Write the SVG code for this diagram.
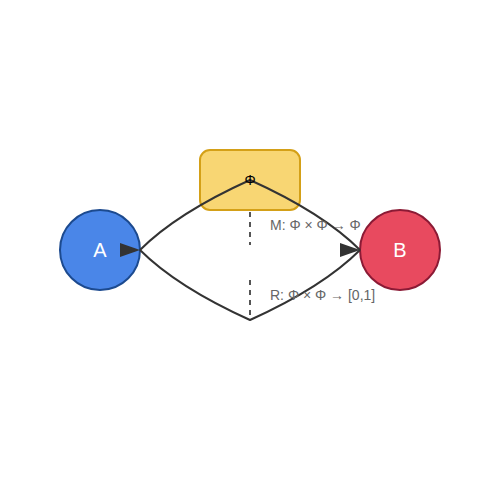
<svg xmlns="http://www.w3.org/2000/svg" width="500" height="500" viewBox="0 0 500 500">
<style>
.edge{fill:none;stroke:#333;stroke-width:2}
.dash{stroke:#555;stroke-width:2;stroke-dasharray:5,5}
.lbl{font-family:"Liberation Sans",Arial,sans-serif;font-size:14px;fill:#666}
.nt{font-family:"Liberation Sans",Arial,sans-serif;font-size:20px;fill:#fff;text-anchor:middle;dominant-baseline:central}
</style>
<defs>
<marker id="arr" markerWidth="20" markerHeight="14" refX="20" refY="7" orient="0" markerUnits="userSpaceOnUse">
<path d="M0,0 L20,7 L0,14 Z" fill="#333"/>
</marker>
</defs>
<rect width="500" height="500" fill="#fff"/>
<g id="node-phi">
<rect x="200" y="150" width="100" height="60" rx="10" fill="#f8d673" stroke="#d4a017" stroke-width="2"/>
</g>
<g id="node-A">
<circle cx="100" cy="250" r="40" fill="#4a86e8" stroke="#1c4a8f" stroke-width="2"/>
<text class="nt" x="100" y="250">A</text>
</g>
<g id="node-B">
<circle cx="400" cy="250" r="40" fill="#e84a5f" stroke="#8b1a35" stroke-width="2"/>
<text class="nt" x="400" y="250">B</text>
</g>
<g id="connectors">
<path class="edge" d="M140,250 Q177,213 250,180 Q323,213 360,250" marker-start="url(#arr)" marker-end="url(#arr)"/>
<path class="edge" d="M140,250 Q177,287 250,320 Q323,287 360,250"/>
<line class="dash" x1="250" y1="212" x2="250" y2="245"/>
<line class="dash" x1="250" y1="280" x2="250" y2="318"/>
</g>
<text x="250" y="185" font-family="Liberation Sans,Arial,sans-serif" font-size="14" text-anchor="middle" fill="#000">Φ</text>
<text class="lbl" x="270" y="230">M: Φ × Φ → Φ</text>
<text class="lbl" x="270" y="300">R: Φ × Φ → [0,1]</text>
</svg>
